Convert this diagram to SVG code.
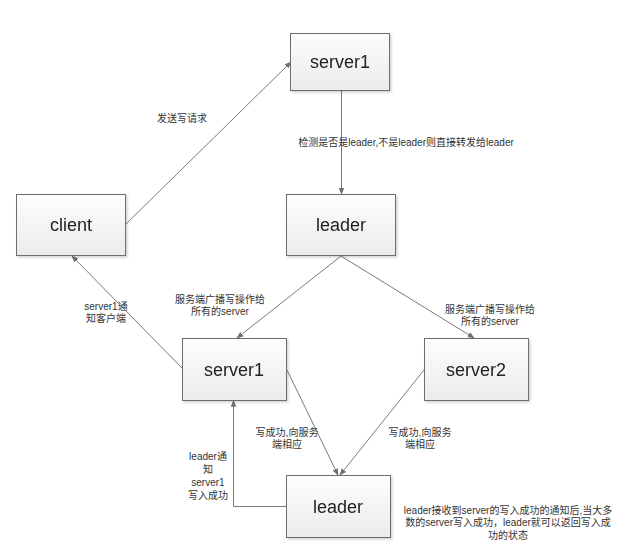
<svg xmlns="http://www.w3.org/2000/svg" width="625" height="557" viewBox="0 0 625 557">
<style>
.box{fill:url(#g);stroke:#6e6e6e;stroke-width:1}
.nt{font-family:"Liberation Sans","Noto Sans CJK SC",sans-serif;font-size:18px;fill:#222;text-anchor:middle}
.lt{font-family:"Liberation Sans","Noto Sans CJK SC",sans-serif;font-size:10px;fill:#333;text-anchor:middle}
.c{fill:none;stroke:#7a7a7a;stroke-width:1;marker-end:url(#a)}
</style>
<defs>
<linearGradient id="g" x1="0" y1="0" x2="0" y2="1">
<stop offset="0" stop-color="#fdfdfd"/>
<stop offset="1" stop-color="#ebebeb"/>
</linearGradient>
<filter id="s" x="-10%" y="-10%" width="130%" height="130%">
<feDropShadow dx="1.5" dy="1.5" stdDeviation="1" flood-color="#000" flood-opacity="0.18"/>
</filter>
<marker id="a" viewBox="0 0 10 10" refX="9" refY="5" markerWidth="7" markerHeight="7" orient="auto-start-reverse" markerUnits="userSpaceOnUse">
<path d="M0,1 L10,5 L0,9 Z" fill="#6e6e6e"/>
</marker>
</defs>
<rect width="625" height="557" fill="#fff"/>
<g id="connectors">
<path class="c" d="M126,224 L291,62"/>
<path class="c" d="M341.5,90 L341.5,194"/>
<path class="c" d="M341,256 L237,338"/>
<path class="c" d="M341,256 L474,338"/>
<path class="c" d="M182,368 L72,256"/>
<path class="c" d="M287,370 L338,475"/>
<path class="c" d="M424,370 L340,475"/>
<path class="c" d="M286,506.5 L233.5,506.5 L233.5,400.5"/>
</g>
<g id="labels">
<text class="lt" x="182" y="122">发送写请求</text>
<text class="lt" x="406" y="146">检测是否是leader,不是leader则直接转发给leader</text>
<text class="lt" x="220" y="303">服务端广播写操作给</text>
<text class="lt" x="220" y="315">所有的server</text>
<text class="lt" x="490" y="313">服务端广播写操作给</text>
<text class="lt" x="490" y="325">所有的server</text>
<text class="lt" x="106" y="310">server1通</text>
<text class="lt" x="106" y="322">知客户端</text>
<text class="lt" x="287" y="436">写成功,向服务</text>
<text class="lt" x="287" y="448">端相应</text>
<text class="lt" x="420" y="436">写成功,向服务</text>
<text class="lt" x="420" y="448">端相应</text>
<text class="lt" x="208" y="460">leader通</text>
<text class="lt" x="208" y="473">知</text>
<text class="lt" x="208" y="486">server1</text>
<text class="lt" x="208" y="499">写入成功</text>
<text class="lt" x="508" y="514">leader接收到server的写入成功的通知后,当大多</text>
<text class="lt" x="508" y="526">数的server写入成功，leader就可以返回写入成</text>
<text class="lt" x="508" y="539">功的状态</text>
</g>
<g id="server1-top" filter="url(#s)"><rect class="box" x="290.5" y="33.5" width="99" height="57"/><text class="nt" x="340" y="68">server1</text></g>
<g id="client" filter="url(#s)"><rect class="box" x="16.5" y="194.5" width="109" height="61"/><text class="nt" x="71" y="231">client</text></g>
<g id="leader-mid" filter="url(#s)"><rect class="box" x="286.5" y="194.5" width="109" height="61"/><text class="nt" x="341" y="231">leader</text></g>
<g id="server1-mid" filter="url(#s)"><rect class="box" x="182.5" y="338.5" width="104" height="62"/><text class="nt" x="234" y="376">server1</text></g>
<g id="server2" filter="url(#s)"><rect class="box" x="424.5" y="338.5" width="104" height="62"/><text class="nt" x="476" y="376">server2</text></g>
<g id="leader-bottom" filter="url(#s)"><rect class="box" x="286.5" y="475.5" width="104" height="62"/><text class="nt" x="338" y="513">leader</text></g>
</svg>
